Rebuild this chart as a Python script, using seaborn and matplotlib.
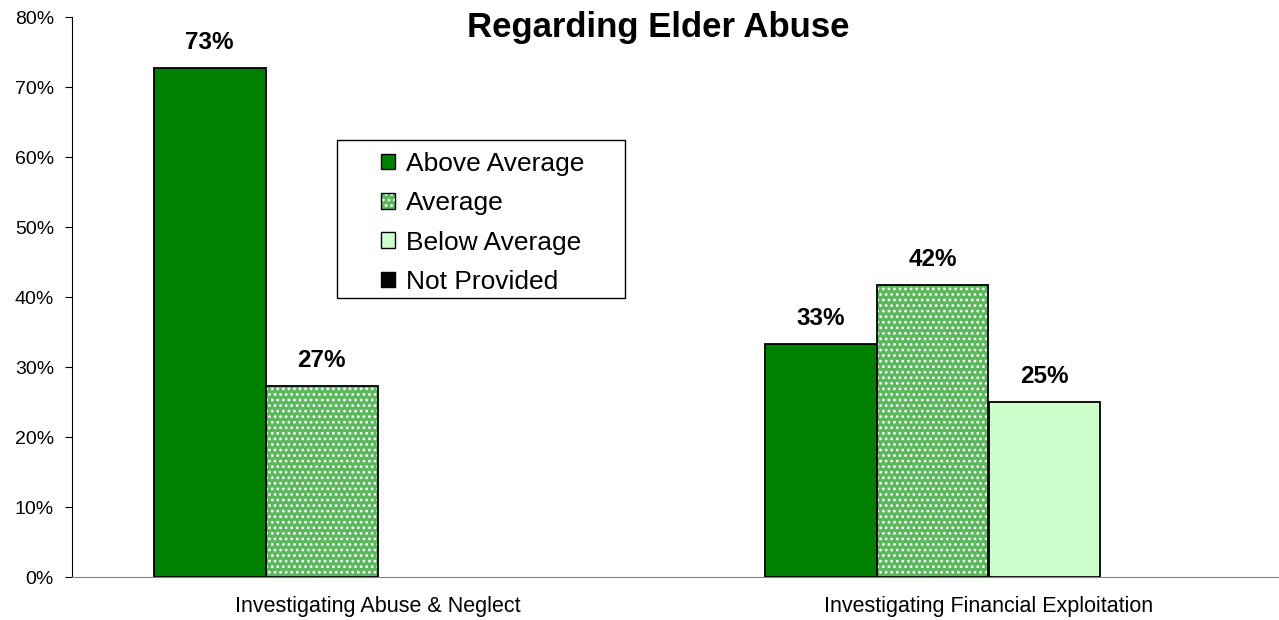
import pandas as pd
import matplotlib.pyplot as plt
import numpy as np
import seaborn as sns
from matplotlib.patches import Patch, Rectangle
from matplotlib.colors import to_rgba

# values (percent)
categories = ["Investigating Abuse & Neglect", "Investigating Financial Exploitation"]
ratings = ["Above Average", "Average", "Below Average", "Not Provided"]
above_avg = [72.7, 33.3]
average = [27.3, 41.7]
below_avg = [0.0, 25.0]
not_provided = [0.0, 0.0]

rows = []
for i, c in enumerate(categories):
    for r, vals in zip(ratings, [above_avg, average, below_avg, not_provided]):
        rows.append({"category": c, "rating": r, "pct": vals[i]})
d = pd.DataFrame(rows)

sns.set_style("white")
plt.rcParams['font.family'] = ['Liberation Sans', 'DejaVu Sans']
plt.rcParams['text.color'] = 'black'
plt.rcParams['xtick.color'] = 'black'
plt.rcParams['ytick.color'] = 'black'
plt.rcParams['hatch.linewidth'] = 1.2

colors = {"Above Average": "#008000", "Average": "#5cb85c",
          "Below Average": "#ccffcc", "Not Provided": "#000000"}

fig = plt.figure(figsize=(12.79, 6.2), dpi=100)
ax = fig.add_axes([72 / 1279, 43 / 620, 1222 / 1279, 560 / 620])

sns.barplot(data=d, x="category", y="pct", hue="rating", hue_order=ratings,
            palette=colors, saturation=1, width=0.733, gap=0, edgecolor="black",
            linewidth=1.3, legend=False, ax=ax)

for cont, r in zip(ax.containers, ratings):
    for p in cont:
        if p.get_height() == 0:
            p.set_visible(False)
            continue
        if r == "Average":
            p.set_hatch("...")
            p._hatch_color = to_rgba("white")
        ax.text(p.get_x() + p.get_width() / 2, p.get_height() + 2.0,
                f"{p.get_height():.0f}%", ha="center", va="bottom",
                fontsize=17.5, fontweight="bold")

ax.set_xlim(-0.5, 1.5)
ax.set_ylim(0, 80)
ax.set_yticks(np.arange(0, 81, 10))
ax.set_yticklabels([f"{v}%" for v in range(0, 81, 10)], fontsize=14)
ax.set_xticks([0, 1])
ax.set_xticklabels(categories, fontsize=15.5)
ax.set_xticks([0.5], minor=True)
ax.tick_params(axis="x", which="major", length=0, pad=14)
ax.tick_params(axis="x", which="minor", length=5, color="#808080", direction="out")
ax.tick_params(axis="y", length=5, direction="out", left=True, color="black", pad=8)
ax.set_xlabel("")
ax.set_ylabel("")

for s in ["top", "right"]:
    ax.spines[s].set_visible(False)
ax.spines["left"].set_color("black")
ax.spines["bottom"].set_color("#808080")

# legend with a separate frame
handles = [Patch(facecolor=colors[r], edgecolor="black", linewidth=1,
                 hatch="..." if r == "Average" else None) for r in ratings]
leg = fig.legend(handles, ratings, loc="upper left",
                 bbox_to_anchor=(381 / 1279, 1 - 152 / 620),
                 fontsize=19, frameon=False,
                 handlelength=0.53, handleheight=0.53, handletextpad=0.42,
                 labelspacing=0.58, borderpad=0, borderaxespad=0)
leg.legend_handles[1]._hatch_color = to_rgba("white")
fig.patches.append(Rectangle((337 / 1279, 1 - 298 / 620), 288 / 1279, 158 / 620,
                             transform=fig.transFigure, fill=False,
                             edgecolor="black", linewidth=1))

fig.text(658 / 1279, 1 - 28 / 620, "Regarding Elder Abuse", ha="center", va="center",
         fontsize=25, fontweight="bold")

fig.savefig("out.png", dpi=100)
